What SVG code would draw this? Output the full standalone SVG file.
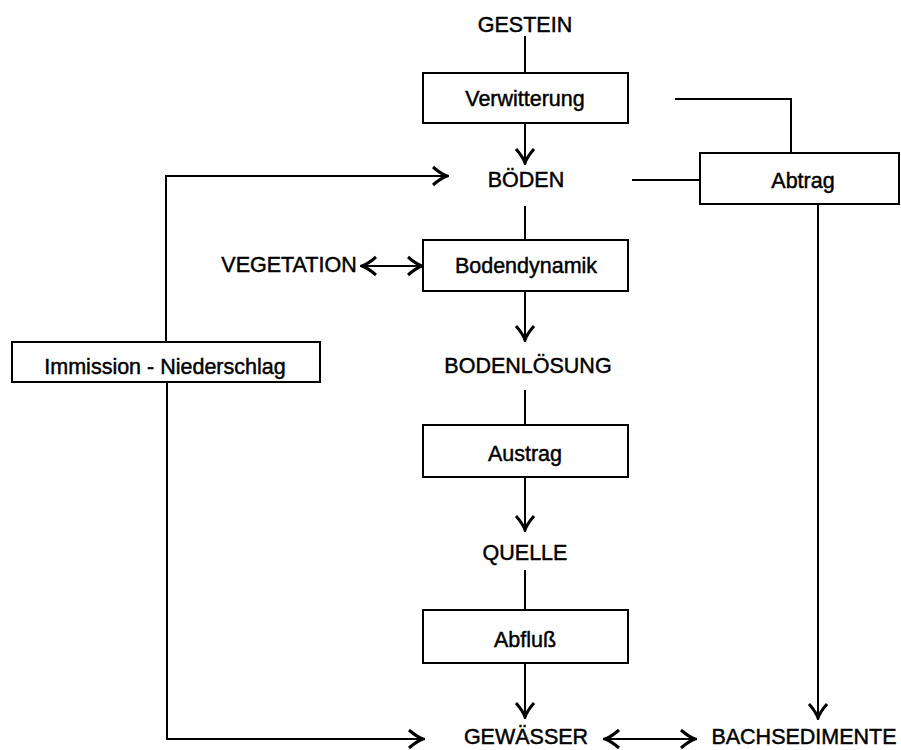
<svg xmlns="http://www.w3.org/2000/svg" width="901" height="750" viewBox="0 0 901 750">
<style>
text{font-family:"Liberation Sans",Arial,sans-serif;font-size:21.5px;fill:#000;stroke:#000;stroke-width:0.45;text-anchor:middle}
.box{fill:#fff;stroke:#000;stroke-width:2}
.c{fill:none;stroke:#000;stroke-width:2}
.a{marker-end:url(#ah)}
.b{marker-start:url(#as);marker-end:url(#ah)}
</style>
<defs>
<marker id="ah" markerUnits="userSpaceOnUse" viewBox="-15 -11 17 22" refX="0" refY="0" markerWidth="17" markerHeight="22" orient="auto">
<path d="M-14,-9 Q-6,-2 0,0 Q-6,2 -14,9" fill="none" stroke="#000" stroke-width="3" stroke-linejoin="miter"/>
</marker>
<marker id="as" markerUnits="userSpaceOnUse" viewBox="-15 -11 17 22" refX="0" refY="0" markerWidth="17" markerHeight="22" orient="auto-start-reverse">
<path d="M-14,-9 Q-6,-2 0,0 Q-6,2 -14,9" fill="none" stroke="#000" stroke-width="3" stroke-linejoin="miter"/>
</marker>
</defs>
<g id="connectors">
<line class="c" x1="525" y1="36" x2="525" y2="73"/>
<line class="c a" x1="525" y1="123" x2="525" y2="163"/>
<line class="c" x1="525" y1="206" x2="525" y2="240"/>
<line class="c a" x1="525" y1="291" x2="525" y2="340"/>
<line class="c" x1="525" y1="390" x2="525" y2="425"/>
<line class="c a" x1="525" y1="477" x2="525" y2="530"/>
<line class="c" x1="525" y1="570" x2="525" y2="610"/>
<line class="c a" x1="525" y1="663" x2="525" y2="717"/>
<polyline class="c a" points="166,342 166,176 447,176"/>
<polyline class="c a" points="167,382 167,739 423,739"/>
<polyline class="c" points="675,99 791,99 791,153"/>
<line class="c" x1="632" y1="180" x2="700" y2="180"/>
<line class="c a" x1="818" y1="204" x2="818" y2="718"/>
<line class="c b" x1="362" y1="266" x2="422" y2="266"/>
<line class="c b" x1="605" y1="739" x2="695" y2="739"/>
</g>
<g id="gestein"><text x="525" y="32">GESTEIN</text></g>
<g id="verwitterung"><rect class="box" x="423" y="73" width="205" height="50"/><text x="525" y="106">Verwitterung</text></g>
<g id="boeden"><text x="526" y="187">BÖDEN</text></g>
<g id="abtrag"><rect class="box" x="700" y="153" width="199" height="51"/><text x="803" y="188">Abtrag</text></g>
<g id="vegetation"><text x="289" y="272">VEGETATION</text></g>
<g id="bodendynamik"><rect class="box" x="423" y="240" width="205" height="51"/><text x="526" y="273">Bodendynamik</text></g>
<g id="immission"><rect class="box" x="12" y="342" width="308" height="40"/><text x="165" y="374">Immission - Niederschlag</text></g>
<g id="bodenloesung"><text x="528" y="373">BODENLÖSUNG</text></g>
<g id="austrag"><rect class="box" x="423" y="425" width="205" height="52"/><text x="525" y="461">Austrag</text></g>
<g id="quelle"><text x="525" y="560">QUELLE</text></g>
<g id="abfluss"><rect class="box" x="423" y="610" width="205" height="53"/><text x="525" y="647">Abfluß</text></g>
<g id="gewaesser"><text x="526" y="744">GEWÄSSER</text></g>
<g id="bachsedimente"><text x="804" y="744">BACHSEDIMENTE</text></g>
</svg>
